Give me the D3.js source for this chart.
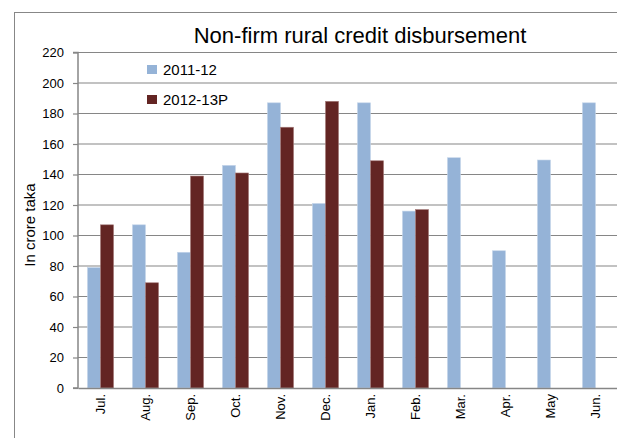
<!DOCTYPE html>
<html>
<head>
<meta charset="utf-8">
<script src="https://cdn.jsdelivr.net/npm/d3@7"></script>
<style>
  body { margin: 0; background: #fff; }
  svg text { fill: #000; }
</style>
</head>
<body>
<svg id="chart" width="617" height="438"></svg>
<script>
// monthly non-firm rural credit disbursement, crore taka
var months = ["Jul.", "Aug.", "Sep.", "Oct.", "Nov.", "Dec.", "Jan.", "Feb.", "Mar.", "Apr.", "May", "Jun."];
var series = ["2011-12", "2012-13P"];
var fy1112 = [79, 107, 89, 146, 187, 121, 187, 116, 151, 90, 149.5, 187];
var fy1213 = [107, 69, 139, 141, 171, 188, 149, 117, null, null, null, null];
var yTicks = [0, 20, 40, 60, 80, 100, 120, 140, 160, 180, 200, 220];
var colors = ["#95b3d7", "#632523"];

var font = "'Liberation Sans', Arial, sans-serif";

var svg = d3.select("#chart"),
    margin = {top: 52.5, left: 78, right: -1, bottom: 50},
    width = 617 - margin.left - margin.right,
    height = 388 - margin.top;

// outer chart border
svg.append("rect")
    .attr("x", 14.5).attr("y", 12.5)
    .attr("width", 620).attr("height", 440)
    .attr("fill", "none").attr("stroke", "#878787").attr("stroke-width", 1);

var g = svg.append("g").attr("transform", "translate(" + margin.left + "," + margin.top + ")");

var x = d3.scaleBand().domain(months).range([0, width]);
var x1 = d3.scaleBand().domain(series).range([x.bandwidth() * 0.21, x.bandwidth() * 0.79]);
var y = d3.scaleLinear().domain([0, 220]).range([height, 0]);

// gridlines
g.append("g").selectAll("line")
    .data(yTicks.slice(1))
    .enter().append("line")
    .attr("x1", 0).attr("x2", width)
    .attr("y1", function(d) { return y(d); })
    .attr("y2", function(d) { return y(d); })
    .attr("stroke", "#868686").attr("stroke-width", 1.2);

// bars
var data = [];
months.forEach(function(m, i) {
    if (fy1112[i] != null) data.push([m, series[0], fy1112[i]]);
    if (fy1213[i] != null) data.push([m, series[1], fy1213[i]]);
});

g.append("g").selectAll("rect")
    .data(data)
    .enter().append("rect")
    .attr("x", function(d) { return x(d[0]) + x1(d[1]); })
    .attr("y", function(d) { return y(d[2]); })
    .attr("width", x1.bandwidth())
    .attr("height", function(d) { return y(0) - y(d[2]); })
    .attr("fill", function(d) { return colors[series.indexOf(d[1])]; })
    .attr("stroke", function(d) { return d[1] == series[0] ? "#c5d6ea" : "#a67c7b"; })
    .attr("stroke-width", 0.6);

// y axis
var yAxis = g.append("g")
    .call(d3.axisLeft(y).tickValues(yTicks).tickSize(5).tickPadding(9));
yAxis.select(".domain").attr("stroke", "#868686").attr("stroke-width", 1.5)
    .attr("d", "M-5," + height + "H0V0H-5");
yAxis.selectAll(".tick line").attr("stroke", "#868686").attr("stroke-width", 1.2);
yAxis.selectAll(".tick text").style("font-family", font).style("font-size", "13px").attr("fill", "#000");

// x axis
var xAxis = g.append("g")
    .attr("transform", "translate(0," + height + ")")
    .call(d3.axisBottom(x).tickSize(0).tickPadding(0));
xAxis.select(".domain").attr("stroke", "#868686").attr("stroke-width", 1.5);
xAxis.selectAll(".tick text")
    .attr("transform", "rotate(-90)")
    .attr("x", -6).attr("y", 0).attr("dy", "0.35em")
    .style("text-anchor", "end")
    .style("font-family", font)
    .style("font-size", "13px").attr("fill", "#000");

// y label
svg.append("text")
    .attr("transform", "translate(35,225) rotate(-90)")
    .attr("text-anchor", "middle")
    .style("font-family", font).style("font-size", "15px")
    .text("In crore taka");

// title
svg.append("text")
    .attr("x", 360).attr("y", 43)
    .attr("text-anchor", "middle")
    .style("font-family", font).style("font-size", "22px")
    .text("Non-firm rural credit disbursement");

// legend
var leg = svg.append("g").attr("transform", "translate(147,65)");
series.forEach(function(s, i) {
    leg.append("rect").attr("x", 0).attr("y", i * 30).attr("width", 10).attr("height", 9).attr("fill", colors[i]);
    leg.append("text").attr("x", 16).attr("y", i * 30 + 10)
        .style("font-family", font).style("font-size", "15px").text(s);
});
</script>
</body>
</html>
